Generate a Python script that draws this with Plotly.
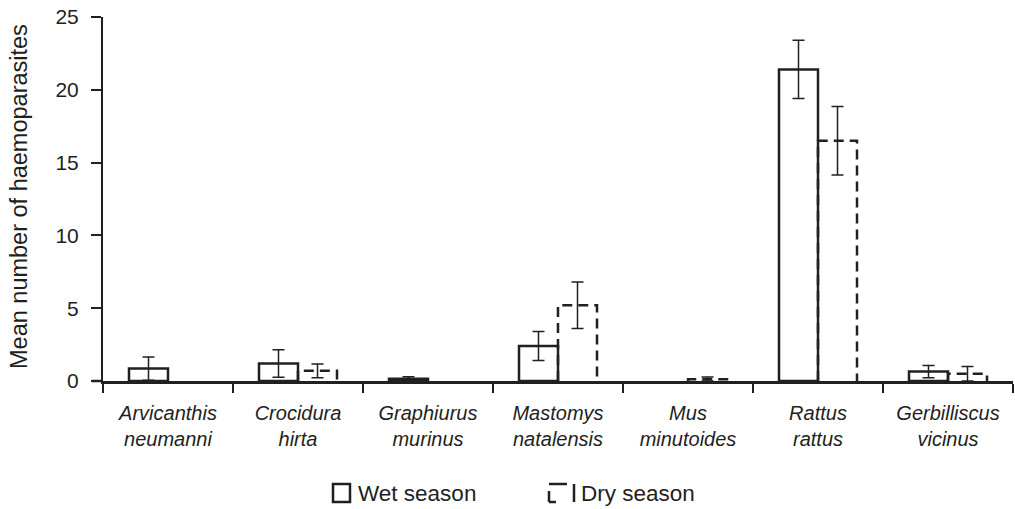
import plotly.graph_objects as go

# ---- data ----
species_genus = ["Arvicanthis", "Crocidura", "Graphiurus", "Mastomys", "Mus", "Rattus", "Gerbilliscus"]
species_epithet = ["neumanni", "hirta", "murinus", "natalensis", "minutoides", "rattus", "vicinus"]
wet_mean = [0.85, 1.2, 0.15, 2.4, 0.0, 21.4, 0.65]
wet_err = [0.8, 0.95, 0.15, 1.0, 0.0, 2.0, 0.42]
dry_mean = [0.0, 0.7, 0.0, 5.2, 0.12, 16.5, 0.5]
dry_err = [0.0, 0.47, 0.0, 1.6, 0.15, 2.35, 0.5]
y_ticks = [0, 5, 10, 15, 20, 25]
series_names = ["Wet season", "Dry season"]
y_title = "Mean number of haemoparasites"

INK = "#231f20"
FONT = "Liberation Sans, Arial, sans-serif"
BAR_W = 0.3
n = len(species_genus)
pos = list(range(n))

def shown(vals):
    return [v if v > 0 else None for v in vals]

def err_plus(m, e):
    return [ei if mi > 0 else None for mi, ei in zip(m, e)]

def err_minus(m, e):
    return [min(ei, mi) if mi > 0 else None for mi, ei in zip(m, e)]

fig = go.Figure()

# wet season bars (solid outline)
fig.add_trace(go.Bar(
    x=[p - BAR_W / 2 for p in pos], y=shown(wet_mean), width=BAR_W,
    marker=dict(color="white", line=dict(color=INK, width=2.5)),
    error_y=dict(type="data", array=err_plus(wet_mean, wet_err),
                 arrayminus=err_minus(wet_mean, wet_err),
                 color=INK, thickness=1.5, width=6),
    name=series_names[0], showlegend=False,
))

# dry season bars (fill only, outline drawn dashed below)
fig.add_trace(go.Bar(
    x=[p + BAR_W / 2 for p in pos], y=shown(dry_mean), width=BAR_W,
    marker=dict(color="rgba(255,255,255,0)", line=dict(width=0)),
    error_y=dict(type="data", array=err_plus(dry_mean, dry_err),
                 arrayminus=err_minus(dry_mean, dry_err),
                 color=INK, thickness=1.5, width=6),
    name=series_names[1], showlegend=False,
))

# dashed outline of dry-season bars, derived from the data
ox, oy = [], []
for p, v in zip(pos, dry_mean):
    if v > 0:
        ox += [p, p, p + BAR_W, p + BAR_W, None]
        oy += [0, v, v, 0, None]
fig.add_trace(go.Scatter(
    x=ox, y=oy, mode="lines",
    line=dict(color=INK, width=2.5, dash="10px,6px"),
    hoverinfo="skip", showlegend=False,
))

ticktext = [f"<i>{g}</i><br><i>{s}</i>" for g, s in zip(species_genus, species_epithet)]

# ---- layout ----
L, R, T, B = 103, 2, 17, 128
W, H = 1015, 509
pw, ph = W - L - R, H - T - B

def px_x(x):
    return (x - L) / pw

def px_y(y):
    return (H - B - y) / ph

shapes = []
# legend icons
shapes.append(dict(type="rect", xref="paper", yref="paper",
                   x0=px_x(333), x1=px_x(350), y0=px_y(502), y1=px_y(484),
                   line=dict(color=INK, width=2.5), fillcolor="white"))
for (x0, y0, x1, y1) in [(549, 484, 567, 484), (549, 491, 549, 502), (549, 502, 556, 502), (574, 484, 574, 502)]:
    shapes.append(dict(type="line", xref="paper", yref="paper",
                       x0=px_x(x0), x1=px_x(x1), y0=px_y(y0), y1=px_y(y1),
                       line=dict(color=INK, width=2.5)))
# small left extension of x axis line
shapes.append(dict(type="line", xref="paper", yref="paper",
                   x0=px_x(92), x1=0, y0=0, y1=0, line=dict(color=INK, width=2.5)))

annotations = [
    dict(text=series_names[0], xref="paper", yref="paper", x=px_x(356), y=px_y(493),
         xanchor="left", yanchor="middle", showarrow=False,
         font=dict(family=FONT, size=22.5, color=INK)),
    dict(text=series_names[1], xref="paper", yref="paper", x=px_x(579), y=px_y(493),
         xanchor="left", yanchor="middle", showarrow=False,
         font=dict(family=FONT, size=22.5, color=INK)),
    dict(text=y_title, xref="paper", yref="paper", x=px_x(19), y=px_y(197),
         xanchor="center", yanchor="middle", textangle=-90, showarrow=False,
         font=dict(family=FONT, size=23.5, color=INK)),
]

fig.update_layout(
    width=W, height=H,
    margin=dict(l=L, r=R, t=T, b=B, autoexpand=False),
    paper_bgcolor="white", plot_bgcolor="white",
    barmode="overlay",
    showlegend=False,
    font=dict(family=FONT, color=INK),
    shapes=shapes, annotations=annotations,
    xaxis=dict(
        range=[-0.5, n - 0.5], showgrid=False, zeroline=False, automargin=False,
        showline=True, linecolor=INK, linewidth=2.5,
        tickmode="array", tickvals=pos, ticktext=ticktext,
        ticks="outside", ticklen=12, tickcolor="rgba(0,0,0,0)",
        tickfont=dict(family=FONT, size=20, color=INK),
        minor=dict(tickmode="array", tickvals=[p - 0.5 for p in range(n + 1)],
                   ticks="outside", ticklen=9, tickwidth=2, tickcolor=INK,
                   showgrid=False),
        fixedrange=True,
    ),
    yaxis=dict(
        range=[0, 25], showgrid=False, zeroline=False, automargin=False,
        showline=True, linecolor=INK, linewidth=2,
        tickmode="array", tickvals=y_ticks,
        ticks="outside", ticklen=10, tickwidth=1.5, tickcolor=INK,
        ticklabelstandoff=8,
        tickfont=dict(family=FONT, size=21, color=INK),
        fixedrange=True,
    ),
)

fig.write_html("out.html", config={"displayModeBar": False},
               post_script="document.body.style.margin='0';document.body.style.overflow='hidden';")
